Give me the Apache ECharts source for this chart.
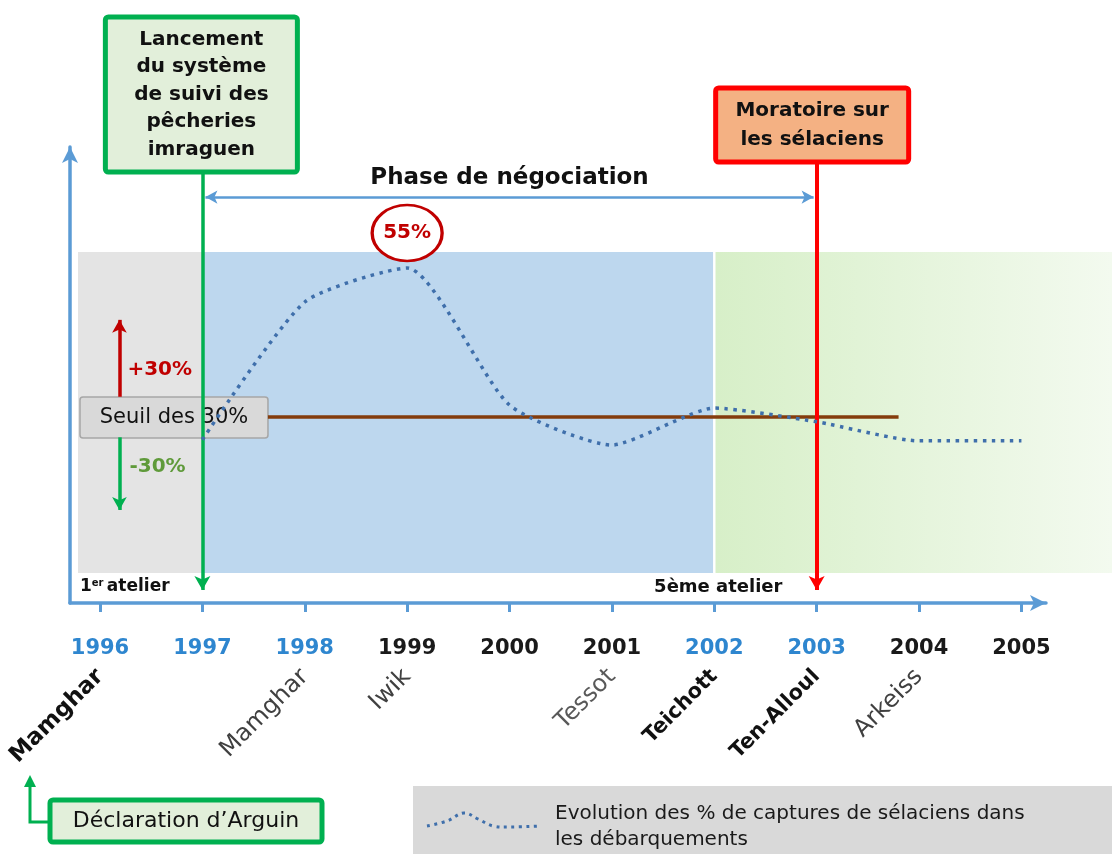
<!DOCTYPE html>
<html>
<head>
<meta charset="utf-8">
<script src="https://cdn.jsdelivr.net/npm/echarts@6/dist/echarts.min.js"></script>
<style>
html, body { margin: 0; padding: 0; background: #ffffff; }
#chart { width: 1112px; height: 854px; }
</style>
</head>
<body>
<div id="chart"></div>
<script>
// Share of rays and sharks (sélaciens) in landings, per year
const years = [1997, 1998, 1999, 2000, 2001, 2002, 2003, 2004, 2005];
const sharePct = [26.2, 49.3, 55, 32, 25.3, 31.5, 29.2, 26, 26];

// Axis years; the ones printed in blue
const tickYears = [1996, 1997, 1998, 1999, 2000, 2001, 2002, 2003, 2004, 2005];
const blueYears = [1996, 1997, 1998, 2002, 2003];

// Workshop sites written under the years
const siteYears = [1996, 1998, 1999, 2001, 2002, 2003, 2004];
const siteNames = ['Mamghar', 'Mamghar', 'Iwik', 'Tessot', 'Teichott', 'Ten-Alloul', 'Arkeiss'];
const siteStyle = ['major', 'minor', 'minor', 'faint', 'bold', 'bold', 'minor'];

// Milestones
const thresholdPct = 30;
const launchYear = 1997;
const moratoriumYear = 2003;
const phaseStart = 1997;
const phaseEnd = 2003;
const fifthWorkshopYear = 2002;

const seriesName = 'Evolution des % de captures de sélaciens dans\nles débarquements';
const FONT = '"DejaVu Sans", sans-serif';
const AXIS_BLUE = '#5b9bd5';
const GREEN = '#00b050';
const LINE_BLUE = '#3f6fab';

const X_MIN = 1995.707, X_MAX = 2005.24;
const Y_MIN = -1.2, Y_MAX = 75.3;
const ZONE_TOP = 57.7, ZONE_BOTTOM = 3.85, ZONE_LEFT = 1995.785;

const chart = echarts.init(document.getElementById('chart'), null, { renderer: 'canvas' });

// Green period fades towards the right edge of the page (pixel-space gradient)
const fadeStops = [{ offset: 0, color: '#d7efc8' }, { offset: 1, color: '#f3faef' }];
const greenFade = () => new echarts.graphic.LinearGradient(716, 0, 1112, 0, fadeStops, true);

const option = {
  animation: false,
  backgroundColor: '#ffffff',
  grid: { left: 70, right: 66, top: 147, bottom: 251, containLabel: false },
  legend: {
    data: [seriesName],
    icon: 'none',
    left: 419, top: 796,
    itemWidth: 126, itemHeight: 20,
    selectedMode: false,
    z: 10,
    textStyle: { fontFamily: FONT, fontSize: 20, color: '#1a1a1a', lineHeight: 26 }
  },
  xAxis: [
    {
      type: 'value', min: X_MIN, max: X_MAX,
      axisLine: { show: true, onZero: false, symbol: ['none', 'arrow'], symbolSize: [12, 16],
        lineStyle: { color: AXIS_BLUE, width: 3.5 } },
      axisTick: { show: true, customValues: tickYears, length: 9, lineStyle: { color: AXIS_BLUE, width: 3 } },
      axisLabel: {
        customValues: tickYears, margin: 35,
        fontFamily: FONT, fontWeight: 'bold', fontSize: 21,
        formatter: v => String(v),
        color: v => (blueYears.indexOf(Math.round(v)) >= 0 ? '#2e86cf' : '#1a1a1a')
      },
      splitLine: { show: false }
    },
    {
      type: 'value', min: X_MIN, max: X_MAX, position: 'bottom',
      axisLine: { show: false, onZero: false }, axisTick: { show: false }, splitLine: { show: false },
      axisLabel: {
        customValues: siteYears, rotate: 45, margin: 70,
        formatter: v => {
          const i = siteYears.indexOf(Math.round(v));
          return '{' + siteStyle[i] + '|' + siteNames[i] + '}';
        },
        rich: {
          major: { fontFamily: FONT, fontWeight: 'bold', fontSize: 23, color: '#111111' },
          bold: { fontFamily: FONT, fontWeight: 'bold', fontSize: 21, color: '#111111' },
          minor: { fontFamily: FONT, fontSize: 24, color: '#404040' },
          faint: { fontFamily: FONT, fontSize: 24, color: '#595959' }
        }
      }
    }
  ],
  yAxis: {
    type: 'value', min: Y_MIN, max: Y_MAX,
    axisLine: { show: true, onZero: false, symbol: ['none', 'arrow'], symbolSize: [12, 16],
      lineStyle: { color: AXIS_BLUE, width: 3.5 } },
    axisTick: { show: false }, axisLabel: { show: false }, splitLine: { show: false }
  },
  series: [
    {
      // background periods
      type: 'line', data: [], z: 1, silent: true, clip: false,
      markArea: {
        silent: true,
        data: [
          [{ xAxis: ZONE_LEFT, yAxis: ZONE_TOP, itemStyle: { color: '#e4e4e4' } }, { xAxis: launchYear, yAxis: ZONE_BOTTOM }],
          [{ xAxis: launchYear, yAxis: ZONE_TOP, itemStyle: { color: '#bdd7ee' } }, { xAxis: fifthWorkshopYear - 0.012, yAxis: ZONE_BOTTOM }],
          [{ xAxis: fifthWorkshopYear + 0.012, yAxis: ZONE_TOP, itemStyle: { color: greenFade() } }, { xAxis: X_MAX, yAxis: ZONE_BOTTOM }]
        ]
      }
    },
    {
      // 30 % threshold
      type: 'line', data: [], z: 2, silent: true, clip: false,
      markLine: {
        silent: true, symbol: 'none', label: { show: false },
        lineStyle: { color: '#843c0c', width: 3.5, type: 'solid' },
        data: [[{ coord: [1997.64, thresholdPct] }, { coord: [2003.8, thresholdPct] }]]
      }
    },
    {
      name: seriesName,
      type: 'line', z: 6, clip: false,
      data: years.map((y, i) => [y, sharePct[i]]),
      smooth: 0.2,
      symbol: 'none',
      lineStyle: { color: LINE_BLUE, width: 3.5, type: [3.5, 5.5], cap: 'butt' },
      itemStyle: { color: LINE_BLUE },
      markPoint: {
        symbol: 'circle', symbolSize: [70, 56], symbolOffset: [0, -35],
        itemStyle: { color: '#ffffff', borderColor: '#c00000', borderWidth: 3 },
        label: { show: true, position: 'inside', formatter: '{c}%', color: '#c00000',
          fontFamily: FONT, fontWeight: 'bold', fontSize: 20 },
        data: [{ type: 'max' }]
      }
    },
    {
      // milestone markers and negotiation phase
      type: 'line', data: [], z: 7, silent: true, clip: false,
      markLine: {
        silent: true, symbolSize: [12, 14],
        label: { show: false },
        data: [
          [{ coord: [launchYear, 71.1], symbol: 'none', lineStyle: { color: GREEN, width: 3.5, type: 'solid' } },
           { coord: [launchYear, 1.0], symbol: 'arrow' }],
          [{ coord: [moratoriumYear, 72.8], symbol: 'none', lineStyle: { color: '#ff0000', width: 4, type: 'solid' } },
           { coord: [moratoriumYear, 1.0], symbol: 'arrow' }],
          [{ coord: [phaseStart + 0.03, 66.9], symbol: 'arrow', symbolSize: [10, 12],
             lineStyle: { color: AXIS_BLUE, width: 2.5, type: 'solid' },
             label: { show: true, position: 'insideMiddleTop', distance: 8, formatter: 'Phase de négociation',
               fontFamily: FONT, fontWeight: 'bold', fontSize: 23, color: '#111111' } },
           { coord: [phaseEnd - 0.03, 66.9], symbol: 'arrow', symbolSize: [10, 12] }],
          [{ coord: [1996.19, 33.4], symbol: 'none', lineStyle: { color: '#c00000', width: 3.5, type: 'solid' } },
           { coord: [1996.19, 46.3], symbol: 'arrow', symbolSize: [11, 13] }],
          [{ coord: [1996.19, 26.6], symbol: 'none', lineStyle: { color: GREEN, width: 3.5, type: 'solid' } },
           { coord: [1996.19, 14.4], symbol: 'arrow', symbolSize: [11, 13] }]
        ]
      }
    }
  ]
};

chart.setOption(option);

// Annotation boxes and captions, placed from axis coordinates
const toPx = (x, y) => chart.convertToPixel({ seriesIndex: 2 }, [x, y]);
const launchX = toPx(launchYear, 0)[0];
const moraX = toPx(moratoriumYear, 0)[0];
const seuilY = toPx(launchYear, thresholdPct)[1];
const arrowX = toPx(1996.19, 0)[0];
const fifthX = toPx(fifthWorkshopYear, 0)[0];
const firstX = toPx(ZONE_LEFT, 0)[0];
const mamgharX = toPx(1996, 0)[0];
const zoneTopPx = toPx(X_MAX, ZONE_TOP);
const zoneBottomPx = toPx(X_MAX, ZONE_BOTTOM);

function box(x, y, w, h, fill, stroke, lw, text, font, lineHeight, z) {
  return {
    type: 'group', z: z,
    children: [
      { type: 'rect', z: z, shape: { x: x, y: y, width: w, height: h, r: 3 },
        style: { fill: fill, stroke: stroke, lineWidth: lw } },
      { type: 'text', z: z, x: x + w / 2, y: y + h / 2,
        style: { text: text, font: font, fill: '#111111', align: 'center', verticalAlign: 'middle', lineHeight: lineHeight } }
    ]
  };
}

chart.setOption({
  graphic: [
    // green period continues past the axis arrow to the page edge
    { type: 'rect', z: 0, silent: true,
      shape: { x: zoneTopPx[0] - 1, y: zoneTopPx[1], width: 1112 - zoneTopPx[0] + 1, height: zoneBottomPx[1] - zoneTopPx[1] },
      style: { fill: greenFade() } },
    box(launchX - 97, 17, 192, 155, '#e2efda', GREEN, 5,
      'Lancement\ndu système\nde suivi des\npêcheries\nimraguen', 'bold 20px ' + FONT, 27.5, 8),
    box(moraX - 101, 88, 193, 74, '#f4b183', '#ff0000', 5,
      'Moratoire sur\nles sélaciens', 'bold 20px ' + FONT, 29, 8),
    box(firstX + 2, seuilY - 20, 188, 41, '#d9d9d9', '#a6a6a6', 1.5,
      'Seuil des 30%', '21px ' + FONT, 24, 3),
    { type: 'text', z: 8, x: arrowX + 8, y: 370,
      style: { text: '+30%', font: 'bold 20px ' + FONT, fill: '#c00000', align: 'left', verticalAlign: 'middle' } },
    { type: 'text', z: 8, x: arrowX + 10, y: 467,
      style: { text: '-30%', font: 'bold 20px ' + FONT, fill: '#5f9a3a', align: 'left', verticalAlign: 'middle' } },
    { type: 'text', z: 8, x: firstX + 2, y: 587,
      style: { text: '{b|1}{s|er} {b|atelier}', align: 'left', verticalAlign: 'middle',
        rich: { b: { font: 'bold 17px ' + FONT, fill: '#111111' },
                s: { font: 'bold 10px ' + FONT, fill: '#111111', verticalAlign: 'top' } } } },
    { type: 'text', z: 8, x: fifthX + 4, y: 587,
      style: { text: '5ème atelier', font: 'bold 18px ' + FONT, fill: '#111111', align: 'center', verticalAlign: 'middle' } },
    // legend panel and its wavy dotted sample
    { type: 'rect', z: 3, shape: { x: 413, y: 786, width: 699, height: 68 }, style: { fill: '#d9d9d9' } },
    { type: 'polyline', z: 11, silent: true,
      shape: { points: [[427, 826], [447, 821], [464, 813], [478, 819], [493, 826], [510, 827], [540, 826]], smooth: 0.4 },
      style: { stroke: LINE_BLUE, lineWidth: 3, lineDash: [3, 4.5], fill: null } },
    // Déclaration d'Arguin and its pointer to Mamghar
    box(50, 800, 272, 42, '#e2efda', GREEN, 5, 'Déclaration d’Arguin', '22px ' + FONT, 26, 8),
    { type: 'polyline', z: 8, shape: { points: [[50, 822], [mamgharX - 70, 822], [mamgharX - 70, 786]] },
      style: { stroke: GREEN, lineWidth: 3, fill: null } },
    { type: 'polygon', z: 8, shape: { points: [[mamgharX - 76, 787], [mamgharX - 64, 787], [mamgharX - 70, 775]] },
      style: { fill: GREEN } }
  ]
});
</script>
</body>
</html>
